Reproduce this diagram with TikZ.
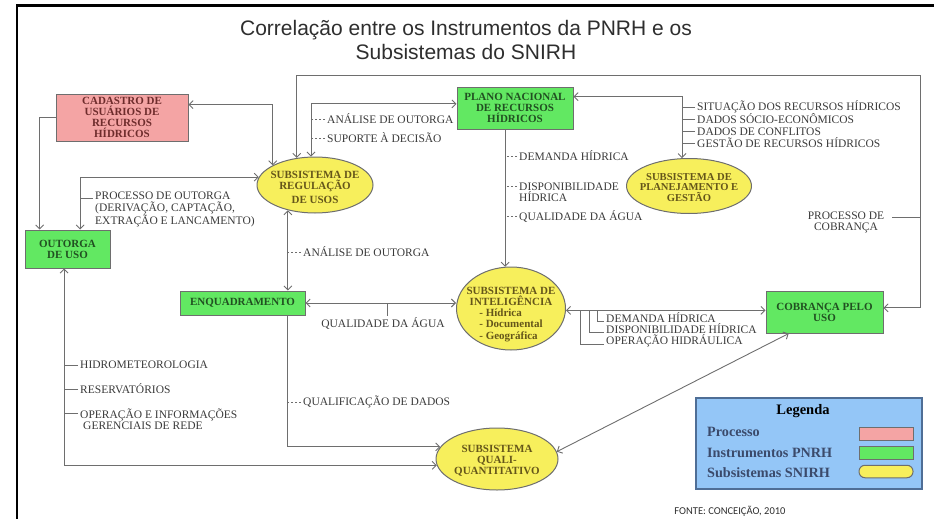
\documentclass[tikz,border=0pt]{standalone}
\usepackage{fontspec}
\setmainfont{Liberation Serif}
\newfontfamily\titlefont{Liberation Sans}
\newfontfamily\sourcefont{Carlito}
\usepackage{xcolor}
\definecolor{ProcFill}{HTML}{F4A4A4}
\definecolor{InstFill}{HTML}{62E862}
\definecolor{SubFill}{HTML}{F7EF5C}
\definecolor{ProcText}{HTML}{6E2C2C}
\definecolor{InstText}{HTML}{215021}
\definecolor{SubText}{HTML}{65561A}
\definecolor{LegFill}{HTML}{94C6F7}
\definecolor{LegEdge}{HTML}{4F6E96}
\definecolor{LegText}{HTML}{3B4A6B}
\definecolor{N600}{HTML}{6E6E6E}
\definecolor{N700}{HTML}{3A3A3A}
\definecolor{N800}{HTML}{2E2E2E}
\usepackage{tikz}
\usetikzlibrary{shapes.geometric, arrows.meta, calc}

\begin{document}
\begin{tikzpicture}[x=1pt, y=-1pt,
  box/.style={draw=N600, line width=1pt, inner sep=0pt, align=center,
              font=\fontsize{11}{11}\selectfont\bfseries},
  proc/.style={box, fill=ProcFill, text=ProcText},
  inst/.style={box, fill=InstFill, text=InstText},
  subsys/.style={box, ellipse, fill=SubFill},
  swsub/.style={box, fill=SubFill, rounded corners=6pt},
  subtext/.style={inner sep=0pt, align=center, text=SubText,
                  font=\fontsize{11}{11}\selectfont\bfseries},
  lbl/.style={anchor=west, inner xsep=2pt, inner ysep=1pt, align=left, text=N700,
              font=\fontsize{11.5}{11.5}\selectfont},
  link/.style={draw=N600, line width=0.9pt},
  oneway/.style={link, -{Straight Barb[length=4pt,width=8pt]}},
  twoway/.style={link, {Straight Barb[length=4pt,width=8pt]}-{Straight Barb[length=4pt,width=8pt]}},
  tickline/.style={draw=N600, line width=0.8pt},
  dashtick/.style={tickline, dash pattern=on 2.5pt off 1.5pt},
  legtext/.style={anchor=west, inner sep=0pt, text=LegText,
                  font=\fontsize{14.2}{16}\selectfont\bfseries}]
  \useasboundingbox (0,0) rectangle (934,519);
  % slide border and title
  \draw[line width=2.7pt] (17,519) -- (17,5.5) -- (934,5.5);
  \node[font=\titlefont\fontsize{21}{24}\selectfont, text=N800, align=center] (title) at (466,40)
    {Correlação entre os Instrumentos da PNRH e os\\Subsistemas do SNIRH};

  % process and instruments (boxes)
  \node[proc, minimum width=132pt, minimum height=47pt] (cad) at (122,117.5)
    {CADASTRO DE\\USUÁRIOS DE\\RECURSOS\\HÍDRICOS};
  \node[inst, minimum width=85pt, minimum height=38pt] (out) at (67.5,249) {OUTORGA\\DE USO};
  \node[inst, minimum width=116pt, minimum height=42pt] (pnrh) at (515,108)
    {PLANO NACIONAL\\DE RECURSOS\\HÍDRICOS};
  \node[inst, minimum width=125pt, minimum height=24pt] (enq) at (242.5,303) {ENQUADRAMENTO};
  \node[inst, minimum width=117pt, minimum height=42pt] (cob) at (824.5,312) {COBRANÇA PELO\\USO};

  % subsystems (ellipses)
  \node[subsys, minimum width=116pt, minimum height=56pt] (reg) at (315,185) {};
  \node[subtext] (regtxt) at (315,187) {SUBSISTEMA DE\\REGULAÇÃO\\[3pt]DE USOS};
  \node[subsys, minimum width=125pt, minimum height=55pt] (plan) at (689,186) {};
  \node[subtext, font=\fontsize{10.6}{10.6}\selectfont\bfseries] (plantxt) at (689,187.5)
    {SUBSISTEMA DE\\PLANEJAMENTO E\\GESTÃO};
  \node[subsys, minimum width=109pt, minimum height=83pt] (intel) at (511,308.5) {};
  \node[subtext] (inteltxt) at (511,315) {SUBSISTEMA DE\\INTELIGÊNCIA\\
    \begin{tabular}[t]{@{}l@{}}- Hídrica\\- Documental\\- Geográfica\end{tabular}};
  \node[subsys, minimum width=122pt, minimum height=62pt] (qq) at (497,459) {};
  \node[subtext] (qqtxt) at (497,461) {SUBSISTEMA\\QUALI-\\QUANTITATIVO};

  % connectors
  \coordinate (ctr) at (920,75);
  \draw[twoway] (cad.11) -| (reg.155);
  \draw[oneway] (cad.west) -| (out.145);
  \draw[twoway] (out.57) |- (reg.172);
  \draw[twoway] (reg.98) |- (pnrh.176);
  \draw[twoway] (reg.124) |- (ctr) |- (cob.4);
  \draw[twoway] (pnrh.11) -| (plan.104);
  \draw[oneway] (pnrh.south -| intel.98) -- (intel.98);
  \draw[twoway] (reg.223) -- (reg.223 |- enq.north);
  \draw[twoway] (enq.east) -- (enq.east -| intel.west);
  \draw[oneway] (enq.south -| reg.223) |- (qq.168);
  \draw[twoway] (out.260) |- (qq.186);
  \draw[twoway] (intel.358) -- (intel.358 -| cob.west);
  \draw[twoway] (cob.211) -- (qq.7);

  % labels on the connectors
  \node[lbl] (po) at (93,209.5) {PROCESSO DE OUTORGA\\(DERIVAÇÃO, CAPTAÇÃO,\\EXTRAÇÃO E LANCAMENTO)};
  \draw[tickline] ($(po.west)+(0,-11.5)$) -- ($(po.west -| out.57)+(0,-11.5)$);
  \node[lbl] (ao1) at (325,119) {ANÁLISE DE OUTORGA};
  \node[lbl] (sd) at (325,138) {SUPORTE À DECISÃO};
  \draw[dashtick] (ao1.west) -- (ao1.west -| reg.98);
  \draw[dashtick] (sd.west) -- (sd.west -| reg.98);
  \foreach \y/\txt [count=\k] in {107/SITUAÇÃO DOS RECURSOS HÍDRICOS, 119/DADOS SÓCIO-ECONÔMICOS,
                                  131.5/DADOS DE CONFLITOS, 143/GESTÃO DE RECURSOS HÍDRICOS} {
    \node[lbl] (pg\k) at (695,\y) {\txt};
    \draw[tickline] (pg\k.west) -- (pg\k.west -| plan.104);
  }
  \node[lbl] (dh1) at (517,156) {DEMANDA HÍDRICA};
  \node[lbl] (dp1) at (517,192) {DISPONIBILIDADE\\HÍDRICA};
  \node[lbl] (qa1) at (517,216) {QUALIDADE DA ÁGUA};
  \draw[dashtick] (dh1.west) -- (dh1.west -| intel.98);
  \draw[dashtick] ($(dp1.west)+(0,-6)$) -- ($(dp1.west -| intel.98)+(0,-6)$);
  \draw[dashtick] (qa1.west) -- (qa1.west -| intel.98);
  \node[lbl] (ao2) at (301,252) {ANÁLISE DE OUTORGA};
  \draw[dashtick] (ao2.west) -- (ao2.west -| reg.223);
  \node[lbl, anchor=center] (qa2) at (383,323) {QUALIDADE DA ÁGUA};
  \draw[tickline] ($(qa2.north)+(4,0)$) -- ($(qa2.north |- enq.east)+(4,0)$);
  \node[lbl] (qd) at (301,402) {QUALIFICAÇÃO DE DADOS};
  \draw[dashtick] (qd.west) -- (qd.west -| reg.223);
  \node[lbl] (hm) at (78,365) {HIDROMETEOROLOGIA};
  \node[lbl] (res) at (78,389) {RESERVATÓRIOS};
  \node[lbl] (opi) at (78,419) {OPERAÇÃO E INFORMAÇÕES\\\hspace*{3pt}GERENCIAIS DE REDE};
  \draw[tickline] (hm.west) -- (hm.west -| out.260);
  \draw[tickline] (res.west) -- (res.west -| out.260);
  \draw[tickline] ($(opi.west)+(0,-6)$) -- ($(opi.west -| out.260)+(0,-6)$);
  \foreach \nm/\y/\dx/\txt in {dh2/318/7/DEMANDA HÍDRICA, dp2/329/15/DISPONIBILIDADE HÍDRICA,
                               op/341/24/OPERAÇÃO HIDRÁULICA} {
    \node[lbl] (\nm) at (604,\y) {\txt};
    \draw[tickline] ($(\nm.west)+(0,3.5)$) -| ($(\nm.west |- intel.358)+(-\dx,0)$);
  }
  \node[lbl, anchor=center, align=center] (pc) at (846,222.5) {PROCESSO DE\\COBRANÇA};
  \draw[tickline] ($(pc.east)+(6,-5.5)$) -- ($(pc.east -| ctr)+(0,-5.5)$);

  % legend
  \node[draw=LegEdge, fill=LegFill, line width=1.2pt, minimum width=226pt, minimum height=91pt,
        inner sep=0pt] (legend) at (809,443.5) {};
  \node[font=\fontsize{14.5}{16}\selectfont\bfseries] (legtitle) at (803,411) {Legenda};
  \foreach \y/\sy/\txt/\sw [count=\k] in {432/434/Processo/proc, 453/453/Instrumentos PNRH/inst,
                                          473/471.5/Subsistemas SNIRH/swsub} {
    \node[legtext] (leg\k) at (707,\y) {\txt};
    \node[\sw, minimum width=54pt, minimum height=12.5pt] (sw\k) at (886,\sy) {};
  }
  \node[font=\sourcefont\fontsize{10.5}{12}\selectfont, text=N800] (src) at (730,511)
    {FONTE: CONCEIÇÃO, 2010};
\end{tikzpicture}
\end{document}
